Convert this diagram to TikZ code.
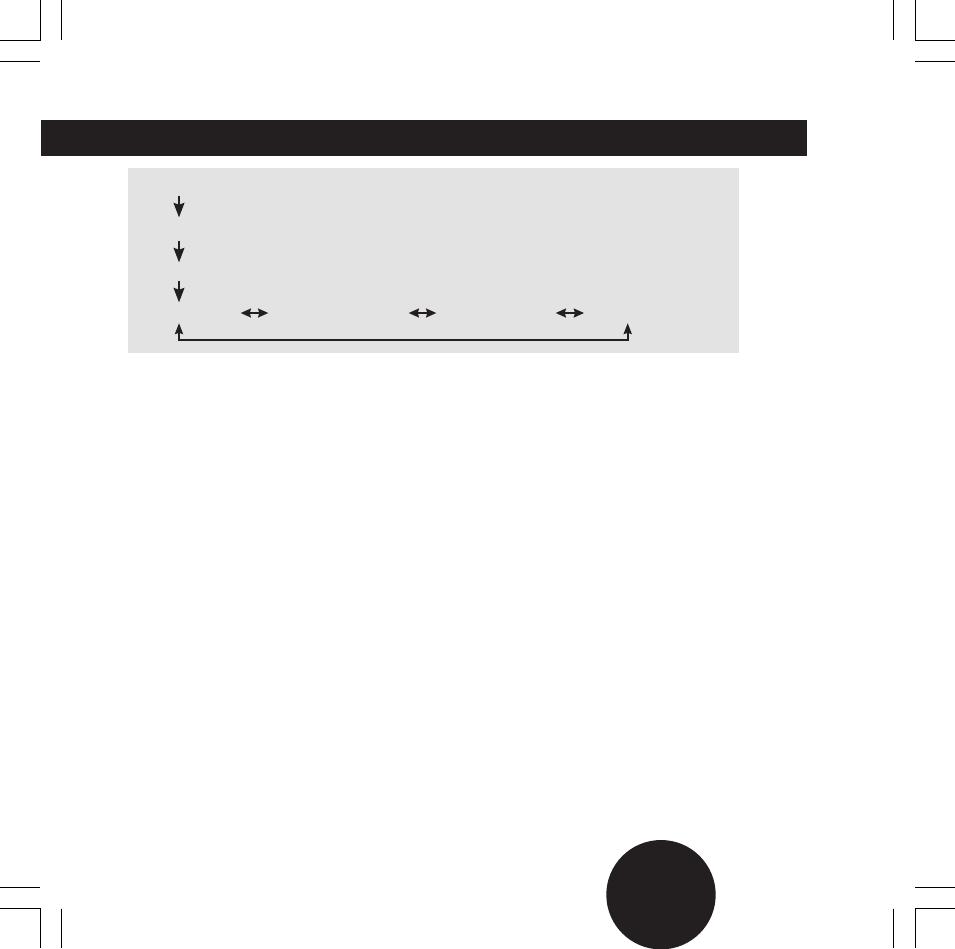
\documentclass[tikz,border=0pt]{standalone}
\definecolor{barblack}{HTML}{231F20}
\definecolor{panelgray}{HTML}{E3E3E3}
\begin{document}
\begin{tikzpicture}[x=1pt,y=-1pt,
  crop/.style={line width=1.3pt,black},
  shaft/.style={line width=1.8pt,barblack},
  thinshaft/.style={line width=1.5pt,barblack},
  head/.style={fill=barblack},
  pics/downhead/.style={code={\fill[head] (0,0) -- (-5.6,-14.6) -- (0,-12.6) -- (5.6,-14.6) -- cycle;}},
  pics/uphead/.style={code={\fill[head] (0,0) -- (-4.3,11) -- (0,9.5) -- (4.3,11) -- cycle;}},
  pics/lefthead/.style={code={\fill[head] (0,0) -- (10.5,-4.7) -- (9,0) -- (10.5,4.7) -- cycle;}},
  pics/righthead/.style={code={\fill[head] (0,0) -- (-10.5,-4.7) -- (-9,0) -- (-10.5,4.7) -- cycle;}}]
\useasboundingbox (0,0) rectangle (955,948);
\fill[white] (0,0) rectangle (955,948);
% crop marks
\draw[crop] (0,40.3) -- (40.3,40.3) -- (40.3,0);
\draw[crop] (61.5,0) -- (61.5,39.5);
\draw[crop] (0,61.3) -- (40,61.3);
\draw[crop] (955,40.3) -- (915.3,40.3) -- (915.3,0);
\draw[crop] (893.3,0) -- (893.3,39.5);
\draw[crop] (955,61.3) -- (915.3,61.3);
\draw[crop] (0,887.3) -- (40,887.3);
\draw[crop] (0,908.3) -- (40.3,908.3) -- (40.3,948);
\draw[crop] (61.5,908.6) -- (61.5,948);
\draw[crop] (955,887.3) -- (915.3,887.3);
\draw[crop] (955,908.3) -- (915.3,908.3) -- (915.3,948);
\draw[crop] (893.3,908.6) -- (893.3,948);
% title bar
\fill[barblack] (41,120) rectangle (807,155.7);
% panel
\fill[panelgray] (128,168) rectangle (739,352.7);
% down arrows
\coordinate (a1s) at (179,195.7); \coordinate (a1e) at (179,217.3);
\coordinate (a2s) at (179,241);   \coordinate (a2e) at (179,262.3);
\coordinate (a3s) at (179,281);   \coordinate (a3e) at (179,302.3);
\draw[shaft] (a1s) -- ([yshift=10pt]a1e); \pic at (a1e) {downhead};
\draw[shaft] (a2s) -- ([yshift=10pt]a2e); \pic at (a2e) {downhead};
\draw[shaft] (a3s) -- ([yshift=10pt]a3e); \pic at (a3e) {downhead};
% loop-back arrow
\coordinate (l1) at (179,323.3); \coordinate (l2) at (627.7,323.3);
\draw[shaft] ([yshift=-8pt]l1) |- (403,340) -| ([yshift=-8pt]l2);
\pic at (l1) {uphead}; \pic at (l2) {uphead};
% double arrows
\coordinate (d1a) at (240.7,313); \coordinate (d1b) at (268.3,313);
\coordinate (d2a) at (408.7,313); \coordinate (d2b) at (436.3,313);
\coordinate (d3a) at (555.7,313); \coordinate (d3b) at (584,313);
\draw[thinshaft] ([xshift=8pt]d1a) -- ([xshift=-8pt]d1b); \pic at (d1a) {lefthead}; \pic at (d1b) {righthead};
\draw[thinshaft] ([xshift=8pt]d2a) -- ([xshift=-8pt]d2b); \pic at (d2a) {lefthead}; \pic at (d2b) {righthead};
\draw[thinshaft] ([xshift=8pt]d3a) -- ([xshift=-8pt]d3b); \pic at (d3a) {lefthead}; \pic at (d3b) {righthead};
% page circle
\fill[barblack] (661,894.7) circle (54.7);
\end{tikzpicture}
\end{document}
